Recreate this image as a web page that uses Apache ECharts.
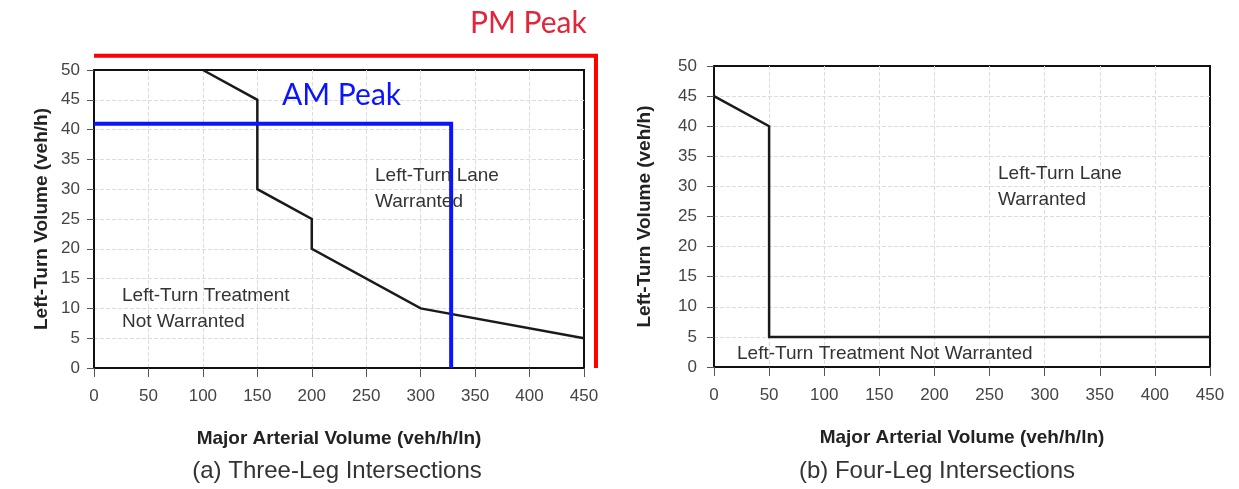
<!DOCTYPE html>
<html>
<head>
<meta charset="utf-8">
<script src="https://cdn.jsdelivr.net/npm/echarts@6/dist/echarts.min.js"></script>
<style>
  html, body { margin: 0; padding: 0; background: #fff; }
  #chart { width: 1239px; height: 489px; }
</style>
</head>
<body>
<div id="chart"></div>
<script>
// x / y tick settings
var xMin = 0, xMax = 450, xStep = 50;
var yMin = 0, yMax = 50, yStep = 5;

// (a) three-leg warrant curve
var threeLegX = [100, 150, 150, 200, 200, 300, 450];
var threeLegY = [50, 45, 30, 25, 20, 10, 5];

// AM / PM peak boxes drawn over (a)
var amPeakX = [0, 328, 328];
var amPeakY = [41, 41, 0];
var pmPeakX = [0, 461, 461];
var pmPeakY = [52.4, 52.4, 0];

// (b) four-leg warrant curve
var fourLegX = [0, 50, 50, 450];
var fourLegY = [45, 40, 5, 5];

function pairs(xs, ys) {
    return xs.map(function (x, i) { return [x, ys[i]]; });
}

var font = 'Liberation Sans, Arial, sans-serif';
var peakFont = 'Lato, Noto Sans, sans-serif';

// plot boxes of the two panels
var gridA = { left: 94, top: 70, width: 490, height: 298 };
var gridB = { left: 714, top: 66, width: 496, height: 301 };

// the PM box sits partly outside panel (a), so it gets a hidden copy of
// panel (a)'s scales stretched to 0..480 / 0..60
var pxPerX = gridA.width / (xMax - xMin);
var pxPerY = gridA.height / (yMax - yMin);
var gridPM = {
    left: gridA.left,
    top: gridA.top - 10 * pxPerY,
    width: 480 * pxPerX,
    height: 60 * pxPerY
};

function xAxisFor(gridIndex) {
    return {
        gridIndex: gridIndex,
        type: 'value',
        min: xMin, max: xMax, interval: xStep,
        name: 'Major Arterial Volume (veh/h/ln)',
        nameLocation: 'middle',
        nameGap: 61,
        nameTextStyle: { fontFamily: font, fontSize: 19, fontWeight: 'bold', color: '#222' },
        axisLine: { lineStyle: { color: '#111', width: 2 } },
        axisTick: { length: 9, lineStyle: { color: '#555', width: 1 } },
        axisLabel: { margin: 20, fontFamily: font, fontSize: 17, color: '#444' },
        splitLine: { show: true, showMinLine: false, showMaxLine: false,
                     lineStyle: { color: '#dcdcdc', width: 1, type: 'dashed' } }
    };
}

function yAxisFor(gridIndex, nameGap, labelMargin) {
    return {
        gridIndex: gridIndex,
        type: 'value',
        min: yMin, max: yMax, interval: yStep,
        name: 'Left-Turn Volume (veh/h)',
        nameLocation: 'middle',
        nameGap: nameGap,
        nameTextStyle: { fontFamily: font, fontSize: 19, fontWeight: 'bold', color: '#222' },
        axisLine: { show: true, lineStyle: { color: '#111', width: 2 } },
        axisTick: { show: true, length: 7, lineStyle: { color: '#555', width: 1 } },
        axisLabel: { margin: labelMargin, fontFamily: font, fontSize: 17, color: '#444' },
        splitLine: { show: true, showMinLine: false, showMaxLine: false,
                     lineStyle: { color: '#dcdcdc', width: 1, type: 'dashed' } }
    };
}

function hiddenAxis(gridIndex, max) {
    return {
        gridIndex: gridIndex, type: 'value', min: 0, max: max,
        show: false, splitLine: { show: false }
    };
}

function lineSeries(idx, xs, ys, color, width) {
    return {
        type: 'line',
        xAxisIndex: idx,
        yAxisIndex: idx,
        data: pairs(xs, ys),
        symbol: 'none',
        clip: false,
        animation: false,
        lineStyle: { color: color, width: width, join: 'miter', cap: 'butt' },
        z: 5
    };
}

function note(x, y, text, align) {
    return {
        type: 'text',
        x: x, y: y,
        style: {
            text: text,
            font: '19px ' + font,
            fill: '#333',
            textAlign: align || 'left',
            textVerticalAlign: 'middle',
            lineHeight: 26
        },
        z: 10
    };
}

var myChart = echarts.init(document.getElementById('chart'));

myChart.setOption({
    backgroundColor: '#fff',
    animation: false,
    grid: [
        Object.assign({ show: true, borderColor: '#111', borderWidth: 2 }, gridA),
        Object.assign({ show: true, borderColor: '#111', borderWidth: 2 }, gridB),
        Object.assign({ show: false }, gridPM)
    ],
    xAxis: [xAxisFor(0), xAxisFor(1), hiddenAxis(2, 480)],
    yAxis: [yAxisFor(0, 43, 14), yAxisFor(1, 60, 17), hiddenAxis(2, 60)],
    series: [
        lineSeries(0, threeLegX, threeLegY, '#1a1a1a', 2.5),
        lineSeries(0, amPeakX, amPeakY, '#0a14ff', 4),
        lineSeries(2, pmPeakX, pmPeakY, '#ff0000', 4),
        lineSeries(1, fourLegX, fourLegY, '#1a1a1a', 2.5)
    ],
    graphic: [
        // peak labels
        { type: 'text', x: 470, y: 23, z: 10,
          style: { text: 'PM Peak', font: '30px ' + peakFont, fill: '#e4243b', textVerticalAlign: 'middle' } },
        { type: 'text', x: 282, y: 95, z: 10,
          style: { text: 'AM Peak', font: '30px ' + peakFont, fill: '#0a14ff', textVerticalAlign: 'middle' } },
        // region notes
        note(375, 189, 'Left-Turn Lane\nWarranted'),
        note(122, 309, 'Left-Turn Treatment\nNot Warranted'),
        note(998, 187, 'Left-Turn Lane\nWarranted'),
        note(737, 354, 'Left-Turn Treatment Not Warranted'),
        // sub captions
        { type: 'text', x: 337, y: 471, z: 10,
          style: { text: '(a) Three-Leg Intersections', font: '24px ' + font, fill: '#333', textAlign: 'center', textVerticalAlign: 'middle' } },
        { type: 'text', x: 937, y: 471, z: 10,
          style: { text: '(b) Four-Leg Intersections', font: '24px ' + font, fill: '#333', textAlign: 'center', textVerticalAlign: 'middle' } }
    ]
});
</script>
</body>
</html>
